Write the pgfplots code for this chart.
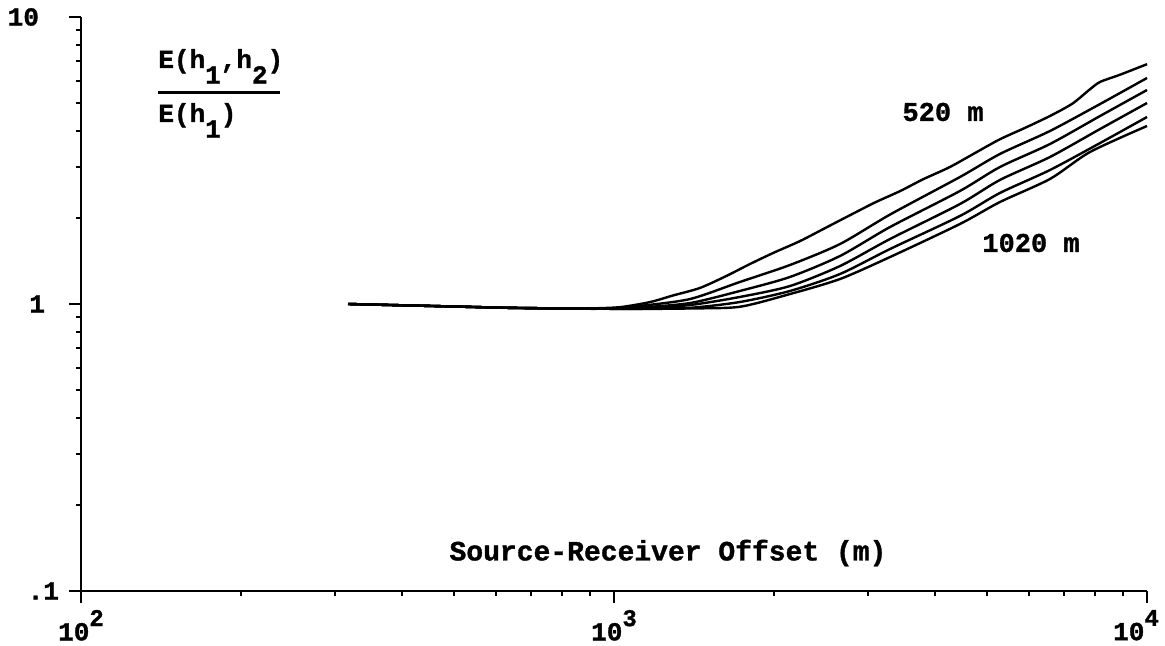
\documentclass[border=0pt]{standalone}
\usepackage{fontspec}
\setmainfont{Liberation Mono}[BoldFeatures={FakeBold=1.2}]
\usepackage{pgfplots}
\usepackage{pgfplotstable}
\pgfplotsset{compat=1.18}
\newcommand{\fs}[1]{\bfseries\fontsize{#1}{#1}\selectfont}
\newcommand{\sub}[1]{\raisebox{-0.6em}{#1}}
\newcommand{\sups}[1]{\raisebox{0.55em}{\fontsize{12}{12}\selectfont #1}}

% columns: L = log10(offset in m), y = E(h1,h2)/E(h1)
\pgfplotstableread{
L y
2.501 1.0
2.6 0.99
2.7 0.98
2.8 0.97
2.88 0.965
2.95 0.965
3.011 0.975
3.068 1.016
3.11 1.07
3.161 1.137
3.21 1.25
3.255 1.378
3.30 1.51
3.349 1.657
3.40 1.855
3.443 2.04
3.49 2.26
3.537 2.475
3.58 2.72
3.63 3.0
3.68 3.38
3.724 3.75
3.77 4.10
3.818 4.52
3.86 4.99
3.893 5.60
3.912 5.94
3.95 6.30
4.0 6.85
}\curveA
\pgfplotstableread{
L y
2.501 1.0
2.6 0.99
2.7 0.98
2.8 0.97
2.9 0.965
2.98 0.963
3.049 0.985
3.143 1.041
3.236 1.193
3.330 1.367
3.424 1.618
3.518 2.05
3.649 2.770
3.724 3.332
3.818 4.007
3.912 4.976
4.0 6.131
}\curveB
\pgfplotstableread{
L y
2.501 1.0
2.6 0.99
2.7 0.98
2.8 0.97
2.9 0.965
3.0 0.963
3.049 0.972
3.143 1.008
3.236 1.110
3.330 1.242
3.424 1.470
3.518 1.855
3.649 2.476
3.724 3.001
3.818 3.610
3.912 4.520
4.0 5.568
}\curveC
\pgfplotstableread{
L y
2.501 1.0
2.6 0.99
2.7 0.98
2.8 0.97
2.9 0.965
3.0 0.963
3.049 0.965
3.143 0.992
3.236 1.058
3.330 1.155
3.424 1.356
3.518 1.685
3.649 2.230
3.724 2.705
3.818 3.253
3.912 4.072
4.0 5.015
}\curveD
\pgfplotstableread{
L y
2.501 1.0
2.6 0.99
2.7 0.98
2.8 0.97
2.9 0.965
3.0 0.962
3.049 0.962
3.143 0.970
3.236 1.016
3.330 1.110
3.424 1.272
3.518 1.555
3.649 2.026
3.724 2.437
3.818 2.930
3.912 3.639
4.0 4.483
}\curveE
\pgfplotstableread{
L y
2.501 1.0
2.6 0.99
2.7 0.98
2.8 0.97
2.9 0.965
3.0 0.962
3.049 0.961
3.143 0.965
3.236 0.978
3.330 1.083
3.424 1.222
3.518 1.458
3.649 1.900
3.724 2.266
3.818 2.727
3.893 3.385
4.0 4.171
}\curveF

\begin{document}
\begin{tikzpicture}
\begin{axis}[
  xmode=log, ymode=log,
  xmin=100, xmax=10000, ymin=0.1, ymax=10,
  width=533pt, height=287pt, scale only axis,
  axis lines=left,
  axis line style={-, line width=1.1pt},
  tick align=outside,
  major tick length=6pt, minor tick length=2.5pt,
  every tick/.style={black, line width=1pt},
  xtick={100,1000,10000},
  minor xtick={200,300,400,500,600,700,800,900,2000,3000,4000,5000,6000,7000,8000,9000},
  xticklabels={{10\sups{2}},{10\sups{3}},{\hspace*{-11pt}10\sups{4}}},
  ytick={0.1,1,10},
  minor ytick={0.2,0.3,0.4,0.5,0.6,0.7,0.8,0.9,2,3,4,5,6,7,8,9},
  yticklabels={{.1},{1\hspace*{7pt}},{10\hspace*{10pt}}},
  yticklabel style={xshift=-1.5pt},
  tick label style={font=\fs{13}},
  clip=false,
  curve/.style={black, line width=1.2pt, line join=round, smooth, tension=0.45},
]
\addplot[curve] table[x expr={10^(\thisrow{L})}, y=y] {\curveA};
\addplot[curve] table[x expr={10^(\thisrow{L})}, y=y] {\curveB};
\addplot[curve] table[x expr={10^(\thisrow{L})}, y=y] {\curveC};
\addplot[curve] table[x expr={10^(\thisrow{L})}, y=y] {\curveD};
\addplot[curve] table[x expr={10^(\thisrow{L})}, y=y] {\curveE};
\addplot[curve] table[x expr={10^(\thisrow{L})}, y=y] {\curveF};
\end{axis}
\node[font=\fs{14}] at (293.5pt,19pt) {Source-Receiver Offset (m)};
\node[font=\fs{13.5}] at (431pt,239.5pt) {520 m};
\node[font=\fs{13.5}] at (475pt,174pt) {1020 m};
\node[font=\fs{13}, anchor=base west, inner sep=0pt] at (38.5pt,261.5pt) {E(h\sub{1},h\sub{2})};
\draw[line width=1.5pt] (38.5pt,249pt) -- (99.5pt,249pt);
\node[font=\fs{13}, anchor=base west, inner sep=0pt] at (38.5pt,234.5pt) {E(h\sub{1})};
\pgfresetboundingbox
\path[use as bounding box] (-40.5pt,-27.5pt) rectangle (542pt,295.5pt);
\end{tikzpicture}
\end{document}
